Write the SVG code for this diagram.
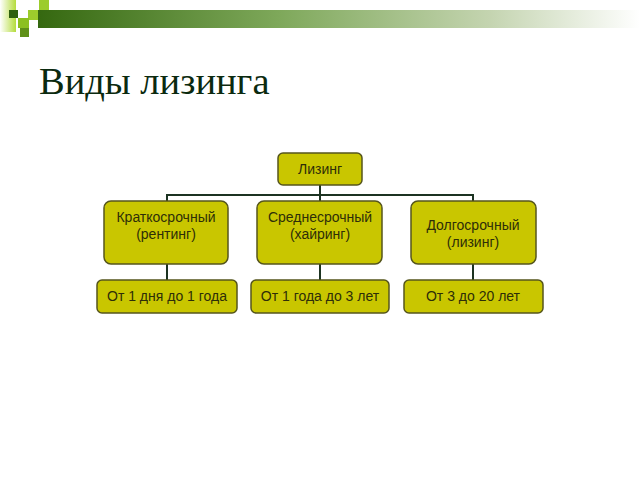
<svg xmlns="http://www.w3.org/2000/svg" width="640" height="480" viewBox="0 0 640 480">
<defs>
<linearGradient id="bar" x1="0" y1="0" x2="1" y2="0">
<stop offset="0" stop-color="#356810"/>
<stop offset="0.4" stop-color="#7ea85a"/>
<stop offset="0.75" stop-color="#c4d4b0"/>
<stop offset="1" stop-color="#ffffff"/>
</linearGradient>
<linearGradient id="fade" x1="0" y1="0" x2="1" y2="0">
<stop offset="0" stop-color="#ffffff"/>
<stop offset="1" stop-color="#b4dc3c"/>
</linearGradient>
<style>
.node rect{fill:#c9c600;stroke:#55551c;stroke-width:1.5}
.node text{font-family:"Liberation Sans",Arial,sans-serif;font-size:14px;fill:#2e2e08;text-anchor:middle}
.conn{stroke:#1c3322;stroke-width:2;fill:none}
</style>
</defs>
<rect width="640" height="480" fill="#ffffff"/>
<g id="header">
<rect x="38" y="10" width="602" height="18" fill="url(#bar)"/>
<rect x="0" y="0" width="16" height="32" fill="url(#fade)"/>
<rect x="9" y="10" width="9" height="8" fill="#2f6010"/>
<rect x="39" y="0" width="10" height="10" fill="#9ccc2c"/>
<rect x="28" y="10" width="10" height="10" fill="#9ccc2c"/>
<rect x="18" y="18" width="11" height="10" fill="#8cc020"/>
<rect x="20" y="28" width="9" height="9" fill="#5f9018"/>
</g>
<text x="39" y="94" font-family="Liberation Serif,Times New Roman,serif" font-size="38.5" fill="#0b2a0f">Виды лизинга</text>
<g id="connectors" class="conn">
<path class="conn" d="M320 185V201M167 201V195H473V201"/>
<path class="conn" d="M167 264V280M320 264V280M473 264V280"/>
</g>
<g id="n-root" class="node">
<rect x="278" y="153" width="84" height="32" rx="5"/>
<text x="320" y="174">Лизинг</text>
</g>
<g id="n-short" class="node">
<rect x="104" y="201" width="124" height="63" rx="7"/>
<text x="166" y="222">Краткосрочный</text>
<text x="166" y="239">(рентинг)</text>
</g>
<g id="n-mid" class="node">
<rect x="257" y="201" width="125" height="63" rx="7"/>
<text x="320" y="222">Среднесрочный</text>
<text x="320" y="239">(хайринг)</text>
</g>
<g id="n-long" class="node">
<rect x="411" y="201" width="125" height="63" rx="7"/>
<text x="473" y="230">Долгосрочный</text>
<text x="473" y="247">(лизинг)</text>
</g>
<g id="t-short" class="node">
<rect x="97" y="280" width="140" height="33" rx="5"/>
<text x="167" y="301">От 1 дня до 1 года</text>
</g>
<g id="t-mid" class="node">
<rect x="251" y="280" width="138" height="33" rx="5"/>
<text x="320" y="301">От 1 года до 3 лет</text>
</g>
<g id="t-long" class="node">
<rect x="404" y="280" width="139" height="33" rx="5"/>
<text x="473" y="301">От 3 до 20 лет</text>
</g>
</svg>
